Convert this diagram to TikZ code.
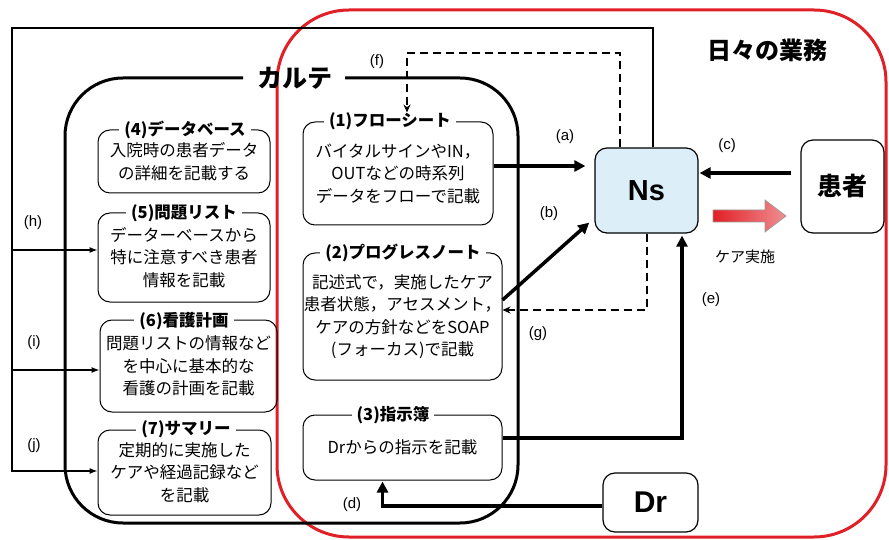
\documentclass[tikz,border=0pt]{standalone}
\usepackage{fontspec}
\setmainfont{Noto Sans CJK JP}
\newfontfamily\lat{Liberation Sans}
\usetikzlibrary{arrows.meta,calc}
\definecolor{rd}{HTML}{E11F26}
\definecolor{nsfill}{HTML}{DCEFF8}
\begin{document}
\begin{tikzpicture}[x=1pt,y=-1pt,
 box/.style={draw, line width=1pt, rounded corners=12pt, align=center, font=\fontsize{16.5}{22.5}\selectfont, inner sep=0pt},
 ttl/.style={fill=white, inner xsep=5pt, inner ysep=1pt, font=\bfseries\fontsize{16.5}{18}\selectfont},
 thk/.style={line width=3.5pt, -{Triangle[length=11pt,width=11pt]}},
 dsh/.style={line width=2pt, dash pattern=on 8pt off 5pt, -{Stealth[length=8pt,width=7pt]}},
 thn/.style={line width=1.1pt, -{Latex[length=8pt,width=6pt]}},
 lbl/.style={font=\lat\fontsize{15}{15}\selectfont},
 bigbox/.style={draw, line width=1.2pt, rounded corners=12pt, inner sep=0pt},
]
\useasboundingbox (0,0) rectangle (889,540);
% red frame
\draw[rd, line width=3pt, rounded corners=72pt] (277,10) rectangle (886,537);
% main nodes
\node[bigbox, fill=nsfill, minimum width=103pt, minimum height=85pt, font=\lat\bfseries\fontsize{29}{29}\selectfont] (ns) at (646.5,190.5) {Ns};
\node[bigbox, minimum width=83pt, minimum height=93pt, font=\bfseries\fontsize{25}{25}\selectfont] (pt) at (842.5,186.5) {患者};
\node[bigbox, minimum width=95pt, minimum height=59pt, font=\lat\bfseries\fontsize{30}{30}\selectfont] (dr) at (650.5,502.5) {Dr};
% karte frame
\draw[line width=3pt, rounded corners=58pt] (243,78) -- (65,78) -- (65,523) -- (518,523) -- (518,78) -- (345,78);
\node[font=\bfseries\fontsize{25}{25}\selectfont] (karte) at (295,78) {カルテ};
\node[font=\bfseries\fontsize{24}{24}\selectfont] (daily) at (767,50) {日々の業務};
% boxes
\node[box, minimum width=172pt, minimum height=63pt] (b4) at (184,161.5) {入院時の患者データ\\の詳細を記載する};
\node[ttl] (t4) at (185,130) {(4)データベース};
\node[box, minimum width=172pt, minimum height=89pt] (b5) at (184,257.5) {データーベースから\\特に注意すべき患者\\情報を記載};
\node[ttl] (t5) at (184,213) {(5)問題リスト};
\node[box, minimum width=177pt, minimum height=92pt] (b6) at (188.5,366) {問題リストの情報など\\を中心に基本的な\\看護の計画を記載};
\node[ttl] (t6) at (184,321) {(6)看護計画};
\node[box, minimum width=173pt, minimum height=85pt] (b7) at (184.5,472.5) {定期的に実施した\\ケアや経過記録など\\を記載};
\node[ttl] (t7) at (186,429) {(7)サマリー};
\node[box, minimum width=190pt, minimum height=103pt] (b1) at (398,173.5) {バイタルサインやIN，\\OUTなどの時系列\\データをフローで記載};
\node[ttl] (t1) at (390,121) {(1)フローシート};
\node[box, minimum width=199pt, minimum height=127pt] (b2) at (402.5,316.5) {記述式で，実施したケア\\患者状態，アセスメント，\\ケアの方針などをSOAP\\(フォーカス)で記載};
\node[ttl] (t2) at (403,253) {(2)プログレスノート};
\node[box, minimum width=199pt, minimum height=65pt] (b3) at (402.5,447.5) {Drからの指示を記載};
\node[ttl] (t3) at (393,415) {(3)指示簿};
% red block arrow
\shade[left color=rd, right color=rd!50, draw=gray!80, line width=0.7pt] (713,210) -- (765,210) -- (765,200) -- (786,216) -- (765,232) -- (765,222) -- (713,222) -- cycle;
\node[font=\fontsize{15}{15}\selectfont] (care) at (745,257) {ケア実施};
% thin frame and arrows h i j
\coordinate (h0) at (12,250);
\coordinate (i0) at (12,370);
\draw[thn] ($(ns.north)+(6.5,0)$) |- (12,28) |- (b7.west |- 0,471);
\draw[thn] (h0) -- (b5.west |- h0);
\draw[thn] (i0) -- (b6.west |- i0);
% thick arrows
\draw[thk, shorten >=9pt] (b1.east |- 0,166) -- (ns.west |- 0,166);
\draw[thk, shorten >=7pt] (b2.east |- 0,300) -- (ns.west |- 0,218);
\draw[thk, shorten <=9pt, shorten >=1pt] (pt.west |- 0,173) -- (ns.east |- 0,173);
\draw[thk, shorten >=1pt] (dr.west |- 0,506) -| ($(b3.south)+(-20,0)$);
\draw[thk, shorten >=2pt] (b3.east |- 0,438) -| ($(ns.south)+(35.5,0)$);
% dashed arrows
\draw[dsh] ($(ns.north)+(-26.5,0)$) |- (407,53) -- ($(b1.north)+(9,-9)$);
\draw[dsh] ($(ns.south)+(0.5,0)$) |- (b2.east |- 0,310);
% labels
\node[lbl] (la) at (565,137) {(a)};
\node[lbl] (lb) at (549,214) {(b)};
\node[lbl] (lc) at (727,146) {(c)};
\node[lbl] (ld) at (352,505) {(d)};
\node[lbl] (le) at (711,300) {(e)};
\node[lbl] (lf) at (377,62) {(f)};
\node[lbl] (lg) at (538,334) {(g)};
\node[lbl] (lh) at (33,223) {(h)};
\node[lbl] (li) at (34,343) {(i)};
\node[lbl] (lj) at (34,446) {(j)};
\end{tikzpicture}
\end{document}
